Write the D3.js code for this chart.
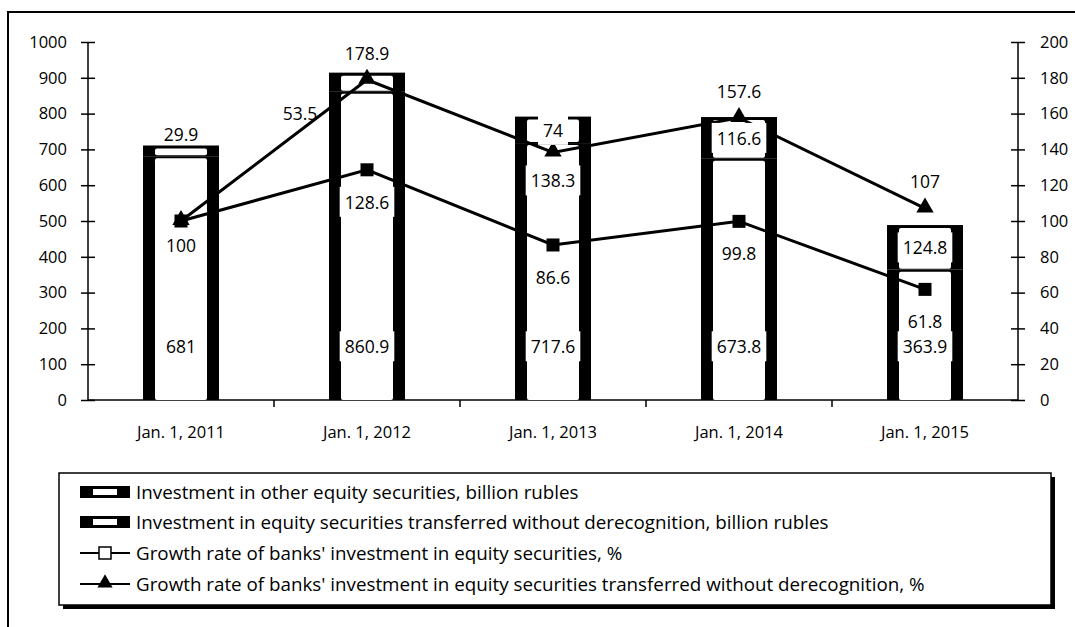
<!DOCTYPE html>
<html>
<head>
<meta charset="utf-8">
<script src="https://cdn.jsdelivr.net/npm/d3@7"></script>
<style>
  body { margin: 0; background: #fff; }
  svg { display: block; font-family: "Open Sans", sans-serif; }
</style>
</head>
<body>
<svg width="1075" height="627"></svg>
<script>
// data
const categories = ["Jan. 1, 2011", "Jan. 1, 2012", "Jan. 1, 2013", "Jan. 1, 2014", "Jan. 1, 2015"];
const otherEquity = [681, 860.9, 717.6, 673.8, 363.9];        // billion rubles
const transferred = [29.9, 53.5, 74, 116.6, 124.8];          // billion rubles
const growthEquity = [100, 128.6, 86.6, 99.8, 61.8];          // %
const growthTransferred = [100, 178.9, 138.3, 157.6, 107];    // %
const leftTicks = d3.range(0, 1001, 100);
const rightTicks = d3.range(0, 201, 20);
const legendLabels = [
  "Investment in other equity securities, billion rubles",
  "Investment in equity securities transferred without derecognition, billion rubles",
  "Growth rate of banks' investment in equity securities, %",
  "Growth rate of banks' investment in equity securities transferred without derecognition, %"
];

const svg = d3.select("svg");
const tickFont = 16.5;
const labelFont = 17.5;
const legendFont = 18.8;

// outer frame (runs off the bottom/right of the picture)
svg.append("rect")
  .attr("x", 8).attr("y", 12)
  .attr("width", 1100).attr("height", 700)
  .attr("fill", "none").attr("stroke", "#000").attr("stroke-width", 2);

const plotLeft = 88, plotRight = 1018, plotTop = 42, plotBottom = 400;

const x = d3.scaleBand().domain(categories).range([plotLeft, plotRight]);
const yLeft = d3.scaleLinear().domain([0, 1000]).range([plotBottom, plotTop]);
const yRight = d3.scaleLinear().domain([0, 200]).range([plotBottom, plotTop]);
const cx = d => x(d) + x.bandwidth() / 2;

// axes
const leftAxis = svg.append("g")
  .attr("transform", `translate(${plotLeft},0)`)
  .call(d3.axisLeft(yLeft).tickValues(leftTicks).tickFormat(d3.format("d")).tickSize(6).tickPadding(15));
const rightAxis = svg.append("g")
  .attr("transform", `translate(${plotRight},0)`)
  .call(d3.axisRight(yRight).tickValues(rightTicks).tickFormat(d3.format("d")).tickSize(6).tickPadding(16));
[leftAxis, rightAxis].forEach(g => {
  g.select(".domain").remove();
  g.selectAll("line").attr("x1", -7).attr("x2", 7).attr("stroke", "#000").attr("stroke-width", 1.5);
  g.selectAll("text").attr("font-size", tickFont).attr("fill", "#000").attr("font-family", "Open Sans");
});
svg.append("line").attr("x1", plotLeft).attr("x2", plotLeft)
  .attr("y1", plotTop).attr("y2", plotBottom).attr("stroke", "#000").attr("stroke-width", 1.5);
svg.append("line").attr("x1", plotRight).attr("x2", plotRight)
  .attr("y1", plotTop).attr("y2", plotBottom).attr("stroke", "#000").attr("stroke-width", 1.5);

// x axis with dividing ticks between categories
const xAxis = svg.append("g").attr("transform", `translate(0,${plotBottom})`);
xAxis.append("line").attr("x1", plotLeft).attr("x2", plotRight)
  .attr("stroke", "#000").attr("stroke-width", 1.5);
xAxis.selectAll(".divider")
  .data(categories.slice(1))
  .enter().append("line")
  .attr("x1", d => x(d)).attr("x2", d => x(d))
  .attr("y1", 0).attr("y2", 7)
  .attr("stroke", "#000").attr("stroke-width", 1.5);
xAxis.selectAll(".cat")
  .data(categories)
  .enter().append("text")
  .attr("x", d => cx(d)).attr("y", 38)
  .attr("text-anchor", "middle")
  .attr("font-size", tickFont)
  .text(d => d);

// stacked bars drawn as thick black frames with white centre
const barW = 76, sideW = 12;
const stacks = categories.map((c, i) => ({
  cat: c,
  segs: [
    { y0: 0, y1: otherEquity[i] },
    { y0: otherEquity[i], y1: otherEquity[i] + transferred[i] }
  ]
}));

const barG = svg.append("g");
stacks.forEach(s => {
  s.segs.forEach((seg, k) => {
    const left = cx(s.cat) - barW / 2;
    const top = yLeft(seg.y1), bottom = yLeft(seg.y0);
    barG.append("rect")
      .attr("x", left).attr("y", top)
      .attr("width", barW).attr("height", bottom - top)
      .attr("fill", "#000");
    barG.append("rect")
      .attr("x", left + sideW).attr("y", top + (k === 1 ? 3 : 2))
      .attr("width", barW - 2 * sideW).attr("height", Math.max(0, bottom - top - (k === 1 ? 4 : 2)))
      .attr("rx", 2)
      .attr("fill", "#fff");
  });
});

// lines
const lineGen = d3.line().x(d => d[0]).y(d => d[1]);
const sqPts = categories.map((c, i) => [cx(c), yRight(growthEquity[i])]);
const triPts = categories.map((c, i) => [cx(c), yRight(growthTransferred[i])]);

svg.append("path").attr("d", lineGen(sqPts))
  .attr("fill", "none").attr("stroke", "#000").attr("stroke-width", 3);
svg.append("path").attr("d", lineGen(triPts))
  .attr("fill", "none").attr("stroke", "#000").attr("stroke-width", 3);

svg.selectAll(".sq").data(sqPts).enter().append("rect")
  .attr("x", d => d[0] - 6.5).attr("y", d => d[1] - 6.5)
  .attr("width", 13).attr("height", 13).attr("fill", "#000");
const tri = d3.symbol().type(d3.symbolTriangle).size(130);
svg.selectAll(".tri").data(triPts).enter().append("path")
  .attr("d", tri)
  .attr("transform", d => `translate(${d[0]},${d[1] - 1})`)
  .attr("fill", "#000");

// data labels with white boxes
function label(px, py, txt, box) {
  const t = svg.append("text")
    .attr("x", px).attr("y", py)
    .attr("text-anchor", "middle")
    .attr("dominant-baseline", "central")
    .attr("font-size", labelFont)
    .text(txt);
  if (box) {
    const bb = t.node().getBBox();
    svg.insert("rect", () => t.node())
      .attr("x", bb.x - 5).attr("y", bb.y - 3)
      .attr("width", bb.width + 10).attr("height", bb.height + 6)
      .attr("fill", "#fff");
  }
}

// bottom segment labels
categories.forEach((c, i) => label(cx(c), yLeft(150), otherEquity[i], true));

// top segment labels
label(cx(categories[0]), yLeft(otherEquity[0] + transferred[0]) - 11, transferred[0], false);
label(cx(categories[1]) - 67, yLeft(otherEquity[1] + transferred[1]) + 40, transferred[1], false);
[2, 3, 4].forEach(i => label(cx(categories[i]),
  yLeft(otherEquity[i] + transferred[i] / 2), transferred[i], true));

// growth of equity (square) labels, below the marker
label(cx(categories[0]), yRight(growthEquity[0]) + 24, growthEquity[0], true);
[1, 2, 3, 4].forEach(i => label(cx(categories[i]), yRight(growthEquity[i]) + 32, growthEquity[i], true));

// growth of transferred (triangle) labels
[1, 3, 4].forEach(i => label(cx(categories[i]), yRight(growthTransferred[i]) - 27, growthTransferred[i], false));
label(cx(categories[2]), yRight(growthTransferred[2]) + 28, growthTransferred[2], true);

// legend
const lg = svg.append("g");
const lgX = 59, lgY = 473, lgW = 992, lgH = 132;
lg.append("rect").attr("x", lgX + 4).attr("y", lgY + 4)
  .attr("width", lgW).attr("height", lgH).attr("fill", "#000");
lg.append("rect").attr("x", lgX).attr("y", lgY)
  .attr("width", lgW).attr("height", lgH)
  .attr("fill", "#fff").attr("stroke", "#000").attr("stroke-width", 1.5);

const rowY = [492, 522, 553, 584];
legendLabels.forEach((txt, i) => {
  const yy = rowY[i];
  if (i < 2) {
    lg.append("rect").attr("x", 80).attr("y", yy - 6).attr("width", 50).attr("height", 12).attr("fill", "#000");
    lg.append("rect").attr("x", 93).attr("y", yy - 3).attr("width", 24).attr("height", 6).attr("fill", "#fff");
  } else {
    lg.append("line").attr("x1", 80).attr("x2", 130).attr("y1", yy).attr("y2", yy)
      .attr("stroke", "#000").attr("stroke-width", 2);
    if (i === 2) {
      lg.append("rect").attr("x", 99).attr("y", yy - 6).attr("width", 12).attr("height", 12)
        .attr("fill", "#fff").attr("stroke", "#000").attr("stroke-width", 1.5);
    } else {
      lg.append("path").attr("d", d3.symbol().type(d3.symbolTriangle).size(100))
        .attr("transform", `translate(105,${yy - 1})`).attr("fill", "#000");
    }
  }
  lg.append("text").attr("x", 136).attr("y", yy)
    .attr("dominant-baseline", "central")
    .attr("font-size", legendFont)
    .text(txt);
});
</script>
</body>
</html>
